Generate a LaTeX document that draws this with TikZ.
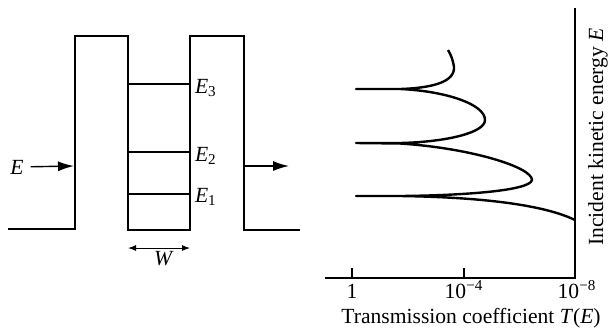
\documentclass[tikz,border=0pt]{standalone}
\usepackage{fontspec}
\setmainfont{Liberation Serif}
\usetikzlibrary{arrows.meta, positioning}
\tikzset{
    well/.style = {line width=1pt, line join=miter},
    level/.style = {line width=1pt},
    lvllabel/.style = {anchor=west, inner sep=1pt},
    flow/.style = {line width=0.7pt, -{Latex[length=8pt, width=5pt]}},
    span/.style = {line width=0.5pt, {Latex[length=4pt, width=3pt]}-{Latex[length=4pt, width=3pt]}},
    axis/.style = {line width=0.8pt},
    tcurve/.style = {line width=1.2pt, line join=round},
    ticklabel/.style = {anchor=base, inner sep=0pt}
}

\begin{document}
\begin{tikzpicture}[x=0.5pt, y=-0.5pt, font=\fontsize{10.8}{13}\selectfont]
\useasboundingbox (0,0) rectangle (608,333);

% --- DOUBLE BARRIER POTENTIAL ---
\draw[well] (8,229) -- (75,229) -- (75,36) -- (128,36) -- (128,230) -- (190,230)
    -- (190,36) -- (244,36) -- (244,230) -- (300,230);

% quasi-bound levels
\draw[level] (128,194) -- (190,194) node[lvllabel] at (192,197) (lvlA) {\textit{E}\textsubscript{1}};
\draw[level] (128,152) -- (190,152) node[lvllabel] at (192,156) (lvlB) {\textit{E}\textsubscript{2}};
\draw[level] (128,84)  -- (190,84)  node[lvllabel] at (192,88)  (lvlC) {\textit{E}\textsubscript{3}};

% incoming / outgoing electron
\node (inE) at (17,167) {\textit{E}};
\coordinate (barL) at (74,166);
\draw[flow] (inE) -- (barL);
\coordinate (outA) at (245,166);
\coordinate (outB) at (289,166);
\draw[flow] (outA) -- (outB);

% well width
\coordinate (wL) at (128,248);
\coordinate (wR) at (190,248);
\draw[span] (wL) -- (wR);
\node (wlab) at (164,259) {\textit{W}};

% --- TRANSMISSION PLOT ---
\draw[axis] (325,278) -- (575,278) -- (575,8);
\draw[axis] (352,278) -- (352,268);
\draw[axis] (464,278) -- (464,268);

\node[ticklabel] (tOne)  at (352,298) {1};
\node[ticklabel] (tFour) at (464,298) {10\textsuperscript{−4}};
\node[ticklabel] (tEight) at (577,298) {10\textsuperscript{−8}};

\node (xlab) at (471,318) {Transmission coefficient \textit{T}(\textit{E})};
\node[rotate=90] (ylab) at (598,137) {Incident kinetic energy \textit{E}};

% T(E) with resonances at E1, E2, E3
\draw[tcurve] (575,220) .. controls (540,203) and (470,197) .. (400,196) -- (356,196) -- (400,196)
    .. controls (460,195.5) and (530,191) .. (532,180)
    .. controls (532,167) and (470,148) .. (400,143.5) -- (356,143) -- (400,143)
    .. controls (445,142) and (485,133) .. (485,120)
    .. controls (485,104) and (445,91) .. (400,89) -- (356,89) -- (400,89)
    .. controls (432,88) and (455,82) .. (454,67)
    .. controls (453,60) and (451,55) .. (448,50);

\end{tikzpicture}
\end{document}
